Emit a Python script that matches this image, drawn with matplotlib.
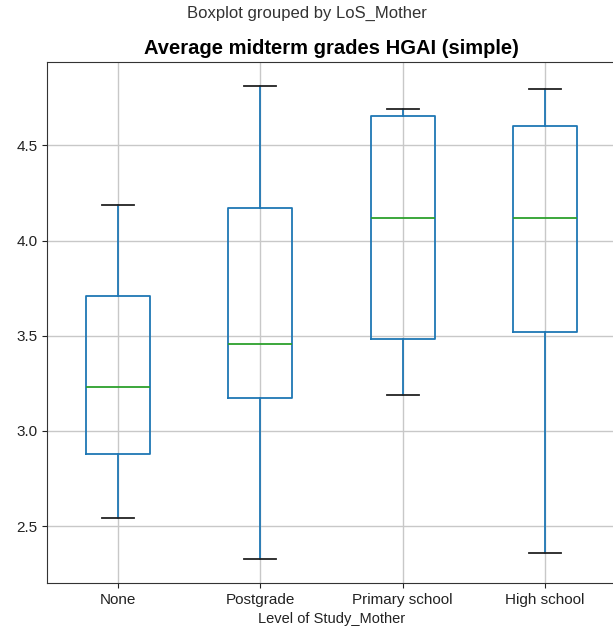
import matplotlib
matplotlib.use("Agg")
import matplotlib.pyplot as plt

plt.rcParams['font.family'] = ['Liberation Sans', 'DejaVu Sans']

# boxplot summary per group
groups = ["None", "Postgrade", "Primary school", "High school"]
whisker_low = [2.54, 2.325, 3.186, 2.356]
q1 = [2.881, 3.175, 3.485, 3.522]
medians = [3.233, 3.454, 4.118, 4.118]
q3 = [3.711, 4.173, 4.655, 4.604]
whisker_high = [4.187, 4.814, 4.693, 4.798]

stats = []
for i, name in enumerate(groups):
    stats.append({
        'label': name,
        'whislo': whisker_low[i],
        'q1': q1[i],
        'med': medians[i],
        'q3': q3[i],
        'whishi': whisker_high[i],
        'fliers': [],
    })

fig = plt.figure(figsize=(6.13, 6.32), dpi=100)
ax = fig.add_axes([0.0767, 0.0775, 0.928, 0.8244])

blue = '#1f77b4'
lw = 1.3
ax.bxp(stats, widths=0.45, showfliers=False,
       boxprops=dict(color=blue, linewidth=lw),
       whiskerprops=dict(color=blue, linewidth=lw),
       medianprops=dict(color='#2ca02c', linewidth=lw),
       capprops=dict(color='#222222', linewidth=lw))

ax.margins(y=0.05)
ax.set_xlim(0.5, 4.5)
ax.grid(True, color='#c8c8c8', linewidth=1.0)
ax.set_axisbelow(True)
for s in ax.spines.values():
    s.set_color('#333333')
ax.tick_params(labelsize=11, colors='#222222')
ax.set_xlabel('Level of Study_Mother', fontsize=10.5, color='#222222')
ax.set_title('Average midterm grades HGAI (simple)', fontsize=14.5, fontweight='bold')
fig.suptitle('Boxplot grouped by LoS_Mother', fontsize=12, y=0.979, va='center', color='#333333')

fig.savefig('out.png', dpi=100)
